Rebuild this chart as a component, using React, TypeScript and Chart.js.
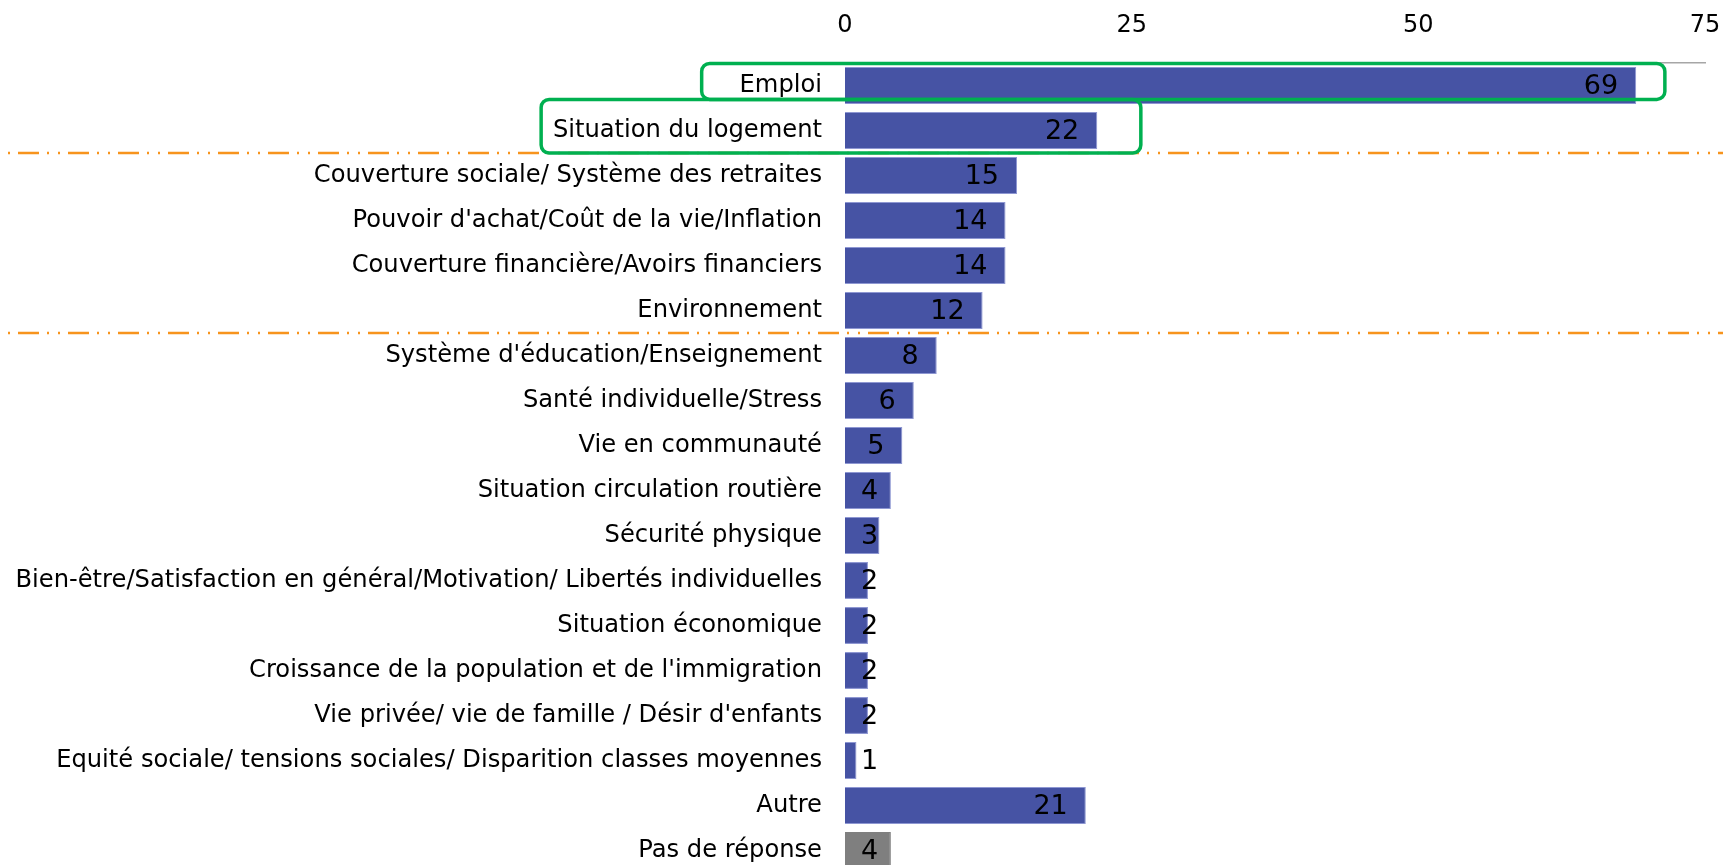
import React, { useEffect, useRef } from 'react';
import { Chart, registerables } from 'chart.js';

Chart.register(...registerables);

const categories = [
  'Emploi',
  'Situation du logement',
  'Couverture sociale/ Système des retraites',
  "Pouvoir d'achat/Coût de la vie/Inflation",
  'Couverture financière/Avoirs financiers',
  'Environnement',
  "Système d'éducation/Enseignement",
  'Santé individuelle/Stress',
  'Vie en communauté',
  'Situation circulation routière',
  'Sécurité physique',
  'Bien-être/Satisfaction en général/Motivation/ Libertés individuelles',
  'Situation économique',
  "Croissance de la population et de l'immigration",
  "Vie privée/ vie de famille / Désir d'enfants",
  'Equité sociale/ tensions sociales/ Disparition classes moyennes',
  'Autre',
  'Pas de réponse',
];

const values = [69, 22, 15, 14, 14, 12, 8, 6, 5, 4, 3, 2, 2, 2, 2, 1, 21, 4];

const xTicks = [0, 25, 50, 75];

// separators between category groups (in category index units)
const separators = [1.5, 5.5];

// highlight boxes: x in axis units, y in category index units
const highlightBoxes = [
  { from: -12.5, to: 71.5, top: -0.49, bottom: 0.31 },
  { from: -26.5, to: 25.8, top: 0.31, bottom: 1.5 },
];

const BLUE = '#4653A4';
const GREY = '#7F7F7F';
const FONT = '"DejaVu Sans", Verdana, sans-serif';

const barColors = values.map((_, i) => (i === values.length - 1 ? GREY : BLUE));
const barBorders = values.map((_, i) => (i === values.length - 1 ? GREY : '#8E97D2'));

const decorPlugin = {
  id: 'decor',
  afterDatasetsDraw(chart: any) {
    const ctx = chart.ctx;
    const xs = chart.scales.x;
    const ys = chart.scales.y;
    const W = chart.width;

    // dashed separators
    ctx.save();
    ctx.strokeStyle = '#F7941D';
    ctx.lineWidth = 2.5;
    ctx.setLineDash([21, 8, 2, 9, 2, 8]);
    ctx.lineDashOffset = 32;
    separators.forEach((s) => {
      const y = Math.round(ys.getPixelForValue(s));
      ctx.beginPath();
      ctx.moveTo(0, y);
      ctx.lineTo(W, y);
      ctx.stroke();
    });
    ctx.restore();

    // green highlight boxes
    ctx.save();
    ctx.strokeStyle = '#00B050';
    ctx.lineWidth = 3.5;
    highlightBoxes.forEach((b) => {
      const x1 = xs.getPixelForValue(b.from);
      const x2 = xs.getPixelForValue(b.to);
      const y1 = ys.getPixelForValue(b.top);
      const y2 = ys.getPixelForValue(b.bottom);
      ctx.beginPath();
      ctx.roundRect(x1, y1, x2 - x1, y2 - y1, 8);
      ctx.stroke();
    });
    ctx.restore();

    // value labels
    const meta = chart.getDatasetMeta(0);
    const x0 = xs.getPixelForValue(0);
    ctx.save();
    ctx.font = '27px ' + FONT;
    ctx.fillStyle = '#000';
    ctx.textAlign = 'left';
    ctx.textBaseline = 'middle';
    meta.data.forEach((bar: any, i: number) => {
      const txt = String(values[i]);
      const w = ctx.measureText(txt).width;
      const left = Math.max(bar.x - 18 - w, x0 + 16);
      ctx.fillText(txt, left, bar.y + 1);
    });
    ctx.restore();
  },
};

export default function App() {
  const ref = useRef<HTMLCanvasElement | null>(null);

  useEffect(() => {
    document.body.style.margin = '0';
    document.body.style.overflow = 'hidden';
    const canvas = ref.current;
    if (!canvas) return;
    const chart = new Chart(canvas, {
      type: 'bar',
      data: {
        labels: categories,
        datasets: [
          {
            data: values,
            backgroundColor: barColors,
            borderColor: barBorders,
            borderWidth: 1,
            barPercentage: 0.82,
            categoryPercentage: 1,
          },
        ],
      },
      options: {
        indexAxis: 'y',
        responsive: false,
        animation: false,
        devicePixelRatio: 1,
        layout: { padding: { top: 0, left: 0, right: 18, bottom: 7 } },
        plugins: {
          legend: { display: false },
          tooltip: { enabled: false },
        },
        scales: {
          x: {
            position: 'top',
            min: 0,
            max: 75,
            afterBuildTicks: (scale: any) => {
              scale.ticks = xTicks.map((v) => ({ value: v }));
            },
            afterFit: (scale: any) => {
              scale.height = 63;
              scale.paddingLeft = 0;
              scale.paddingRight = 0;
            },
            grid: { display: false, drawTicks: false },
            border: { display: true, color: '#A6A6A6', width: 1.5 },
            ticks: {
              padding: 23,
              color: '#000',
              font: { family: FONT, size: 24 },
              maxRotation: 0,
            },
          },
          y: {
            afterFit: (scale: any) => {
              scale.width = 845;
              scale.paddingTop = 0;
              scale.paddingBottom = 0;
            },
            grid: { display: false, drawTicks: false },
            border: { display: false },
            ticks: {
              padding: 23,
              color: '#000',
              autoSkip: false,
              font: { family: FONT, size: 24.2 },
            },
          },
        },
      },
      plugins: [decorPlugin],
    });
    return () => chart.destroy();
  }, []);

  return (
    <div style={{ width: 1723, height: 865, overflow: 'hidden', background: '#fff' }}>
      <canvas ref={ref} width={1723} height={880} style={{ display: 'block' }} />
    </div>
  );
}
